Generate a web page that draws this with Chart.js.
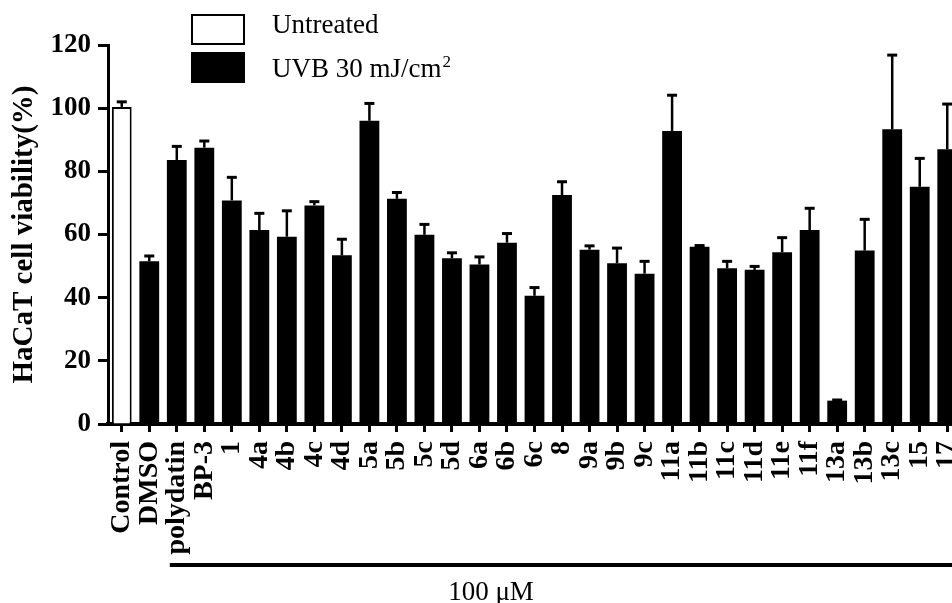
<!DOCTYPE html>
<html>
<head>
<meta charset="utf-8">
<script src="https://cdn.jsdelivr.net/npm/chart.js@4.4.1/dist/chart.umd.min.js"></script>
<style>
  html, body { margin: 0; padding: 0; background: #fff; overflow: hidden; }
  #wrap { width: 962px; height: 603px; }
</style>
</head>
<body>
<div id="wrap"><canvas id="myChart" width="962" height="603"></canvas></div>
<script>
// categories along the x axis
var categories = ['Control', 'DMSO', 'polydatin', 'BP-3', '1', '4a', '4b', '4c', '4d', '5a', '5b', '5c', '5d',
  '6a', '6b', '6c', '8', '9a', '9b', '9c', '11a', '11b', '11c', '11d', '11e', '11f', '13a', '13b', '13c', '15', '17'];

// mean viability (%) - untreated only has the control
var untreated = [100.4, null, null, null, null, null, null, null, null, null, null, null, null,
  null, null, null, null, null, null, null, null, null, null, null, null, null, null, null, null, null, null];
var uvb = [null, 51.5, 83.6, 87.5, 70.8, 61.4, 59.3, 69.2, 53.4, 96.0, 71.3, 59.9, 52.5,
  50.5, 57.4, 40.6, 72.5, 55.2, 50.9, 47.6, 92.8, 56.1, 49.3, 48.8, 54.4, 61.4, 7.4, 54.9, 93.3, 75.1, 87.0];

// error bars (upper part only)
var untreatedErr = [1.6, null, null, null, null, null, null, null, null, null, null, null, null,
  null, null, null, null, null, null, null, null, null, null, null, null, null, null, null, null, null, null];
var uvbErr = [null, 1.7, 4.3, 2.1, 7.3, 5.3, 8.2, 1.2, 5.1, 5.5, 2.0, 3.3, 1.7,
  2.4, 2.9, 2.6, 4.2, 1.2, 4.8, 3.9, 11.3, 0.4, 2.2, 1.1, 4.6, 6.9, 0.2, 9.9, 23.5, 9.0, 14.3];

var yTicks = [0, 20, 40, 60, 80, 100, 120];

var serif = '"Liberation Serif", "Times New Roman", serif';

// draws the error bars from the bar tops
var errorBars = {
  id: 'errorBars',
  afterDatasetsDraw: function(chart) {
    var ctx = chart.ctx;
    var yScale = chart.scales.y;
    chart.data.datasets.forEach(function(ds, di) {
      var meta = chart.getDatasetMeta(di);
      ds.data.forEach(function(v, i) {
        if (v === null || ds.errors[i] === null) return;
        var x = meta.data[i].x;
        var y0 = yScale.getPixelForValue(v);
        var y1 = yScale.getPixelForValue(v + ds.errors[i]);
        ctx.save();
        ctx.strokeStyle = '#000';
        ctx.lineWidth = 2.5;
        ctx.beginPath();
        ctx.moveTo(x, y0);
        ctx.lineTo(x, y1);
        ctx.stroke();
        ctx.lineWidth = 3;
        ctx.beginPath();
        ctx.moveTo(x - 5, y1);
        ctx.lineTo(x + 5, y1);
        ctx.stroke();
        ctx.restore();
      });
    });
  }
};

// legend boxes and the "100 µM" bracket
var extras = {
  id: 'extras',
  afterDraw: function(chart) {
    var ctx = chart.ctx;
    ctx.save();
    var boxes = [[191, 14, 33], [191, 52, 77]];
    chart.data.datasets.forEach(function(ds, di) {
      var b = boxes[di];
      ctx.fillStyle = ds.backgroundColor;
      ctx.fillRect(b[0], b[1], 54, 31);
      ctx.strokeStyle = '#000';
      ctx.lineWidth = 2;
      ctx.strokeRect(b[0] + 1, b[1] + 1, 52, 29);
      ctx.fillStyle = '#000';
      ctx.font = '27px ' + serif;
      ctx.textBaseline = 'alphabetic';
      ctx.textAlign = 'left';
      ctx.fillText(ds.label, 272, b[2]);
      if (di === 1) {
        var w = ctx.measureText(ds.label).width;
        ctx.font = '17px ' + serif;
        ctx.fillText('2', 272 + w + 1, b[2] - 10);
      }
    });

    var xs = chart.scales.x;
    var left = xs.getPixelForValue(2) - 7;
    ctx.fillStyle = '#000';
    ctx.fillRect(left, 563, chart.width - left, 4);
    ctx.font = '27px ' + serif;
    ctx.textAlign = 'center';
    ctx.textBaseline = 'alphabetic';
    ctx.fillText('100 \u03bcM', 491, 600);
    ctx.restore();
  }
};

var ctx = document.getElementById('myChart').getContext('2d');
var myChart = new Chart(ctx, {
  type: 'bar',
  data: {
    labels: categories,
    datasets: [{
      label: 'Untreated',
      data: untreated,
      errors: untreatedErr,
      backgroundColor: '#ffffff',
      borderColor: '#000000',
      borderWidth: 2,
      borderSkipped: 'bottom'
    }, {
      label: 'UVB 30 mJ/cm',
      data: uvb,
      errors: uvbErr,
      backgroundColor: '#000000',
      borderWidth: 0
    }]
  },
  options: {
    responsive: false,
    animation: false,
    devicePixelRatio: 1,
    barPercentage: 0.72,
    categoryPercentage: 1,
    layout: { padding: { top: 45, right: 1, left: 0, bottom: 0 } },
    plugins: {
      legend: { display: false },
      tooltip: { enabled: false }
    },
    scales: {
      x: {
        stacked: true,
        offset: true,
        afterFit: function(scale) {
          scale.height = 179;
          scale.paddingRight = 0;
          scale.paddingLeft = 0;
        },
        grid: { display: true, offset: false, drawOnChartArea: false, drawTicks: true,
                tickLength: 8, tickWidth: 3, tickColor: '#000' },
        border: { display: true, width: 4, color: '#000' },
        ticks: {
          autoSkip: false,
          minRotation: 90,
          maxRotation: 90,
          padding: 9,
          color: '#000',
          font: { family: serif, size: 28, weight: 'bold' }
        }
      },
      y: {
        stacked: true,
        min: 0,
        max: 120,
        afterFit: function(scale) { scale.width = 108; },
        afterBuildTicks: function(scale) {
          scale.ticks = yTicks.map(function(v) { return { value: v }; });
        },
        grid: { display: true, drawOnChartArea: false, drawTicks: true,
                tickLength: 10, tickWidth: 3, tickColor: '#000' },
        border: { display: true, width: 3, color: '#000' },
        ticks: {
          padding: 7,
          color: '#000',
          font: { family: serif, size: 27, weight: 'bold' }
        },
        title: {
          display: true,
          text: 'HaCaT cell viability(%)',
          color: '#000',
          padding: { top: 7, bottom: 0 },
          font: { family: serif, size: 29, weight: 'bold' }
        }
      }
    }
  },
  plugins: [errorBars, extras]
});
</script>
</body>
</html>
